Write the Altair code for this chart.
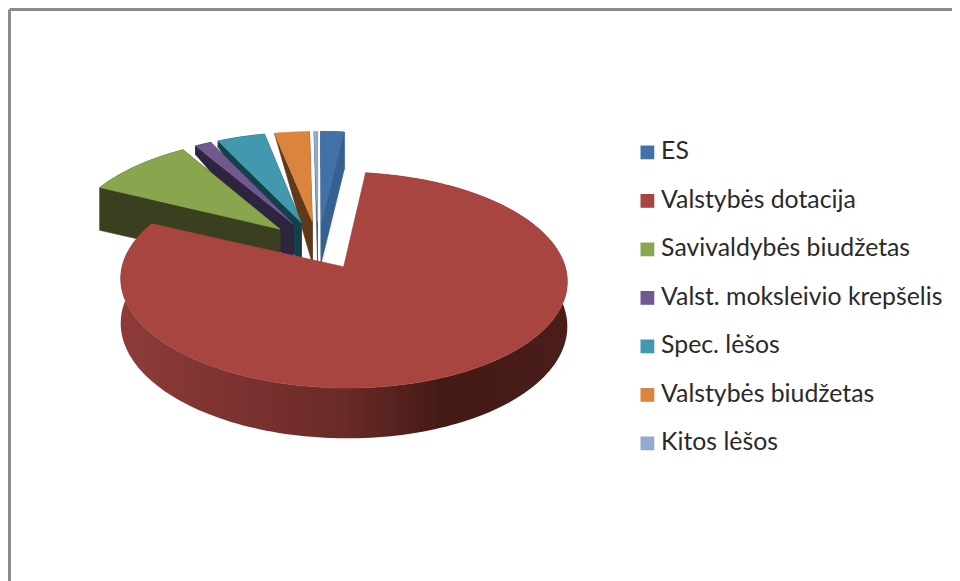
import math
import altair as alt
import pandas as pd

categories = ["ES", "Valstybės dotacija", "Savivaldybės biudžetas",
              "Valst. moksleivio krepšelis", "Spec. lėšos",
              "Valstybės biudžetas", "Kitos lėšos"]
values = [2.0, 80.0, 9.2, 1.4, 4.1, 3.0, 0.3]
top_colors = ["#4171a8", "#a84541", "#89a54e", "#71588f", "#4198af", "#db843d", "#93a9cf"]
wall_colors = ["#35608f", "#6a2a28", "#3a401f", "#2e2440", "#153f4b", "#5f3a1a", "#4c5a78"]
fan_order = [6, 5, 4, 3, 2, 0]
MAIN = 1

# Projection of the tilted disc onto the picture
CX, CY, RX, RY, K, DEPTH, EXPLODE, FAN_V = 318.0, 245.0, 216.0, 101.0, 0.12, 43.0, 0.24, 1.06
OUTER_DROP = {0: 43.0, 1: 43.0, 2: 46.0, 3: 10.0, 4: 7.0, 5: 0.0, 6: 0.0}
PLOT_L, PLOT_T, PLOT_W, PLOT_H = 9.0, 9.0, 943.0, 572.0


def project(u, v, drop=0.0):
    w = 1 + K * v
    return CX + RX * u / w, CY - RY * v / w + drop / w


rows = []
poly_id = [0]


def add_poly(points, face, layer):
    pid = poly_id[0]
    poly_id[0] += 1
    for i, (x, y) in enumerate(points + points[:1]):
        rows.append({"poly": pid, "seq": i, "px": x, "py": y, "face": face, "layer": layer})


total = sum(values)
edges = [0.0]
for val in values:
    edges.append(edges[-1] + val / total * 2 * math.pi)


def slice_polys(s):
    a0, a1 = edges[s], edges[s + 1]
    mid = (a0 + a1) / 2
    ou, ov = EXPLODE * math.sin(mid), EXPLODE * math.cos(mid)
    n = max(2, int((a1 - a0) / math.radians(1.5)))
    angs = [a0 + (a1 - a0) * i / n for i in range(n + 1)]
    stretch = 1.0 if s == MAIN else FAN_V
    rim = [(ou + math.sin(a), ov + stretch * math.cos(a)) for a in angs]
    drop = OUTER_DROP[s]
    lower = [project(u, v, drop) for u, v in rim]
    upper = [project(u, v) for u, v in rim]
    if s == MAIN:
        add_poly(upper + lower[::-1], wall_colors[s], "wall")
    else:
        for (u, v) in (rim[0], rim[-1]):
            add_poly([project(ou, ov), project(u, v), project(u, v, drop), project(ou, ov, DEPTH)],
                     wall_colors[s], "fan")
        if drop > 0:
            add_poly(upper + lower[::-1], wall_colors[s], "fan")
    add_poly([project(ou, ov)] + upper, categories[s], "top" if s == MAIN else "fan")


for s in fan_order:
    slice_polys(s)
slice_polys(MAIN)

df = pd.DataFrame(rows)
shades = sorted(set(df["face"]) - set(categories))
fill_scale = alt.Scale(domain=categories + shades, range=top_colors + shades)

x_axis = alt.Axis(orient="top", domainColor="#8c8c8c", domainWidth=3, ticks=False,
                  labels=False, grid=False, title=None)
y_axis = alt.Axis(orient="left", domainColor="#8c8c8c", domainWidth=3, ticks=False,
                  labels=False, grid=False, title=None)
x_enc = alt.X("px:Q", scale=alt.Scale(domain=[PLOT_L, PLOT_L + PLOT_W], nice=False, zero=False), axis=x_axis)
y_enc = alt.Y("py:Q", scale=alt.Scale(domain=[PLOT_T + PLOT_H, PLOT_T], nice=False, zero=False), axis=y_axis)

legend = alt.Legend(
    values=categories, title=None, orient="none", legendX=626, legendY=131,
    symbolType="square", symbolSize=190, symbolStrokeWidth=0,
    labelFont="Lato", labelFontSize=24.8, labelColor="#2a2a2a",
    labelLimit=400, rowPadding=22.5, labelOffset=1.3, padding=0,
)

base = alt.Chart(df)

fan = (
    base.transform_filter(alt.datum.layer == "fan")
    .mark_line(strokeWidth=0.6, interpolate="linear", strokeJoin="round")
    .encode(
        x=x_enc, y=y_enc,
        fill=alt.Fill("face:N", scale=fill_scale, legend=legend),
        stroke=alt.Stroke("face:N", scale=fill_scale, legend=None),
        detail="poly:N",
        order=alt.Order("seq:Q"),
    )
)

wall_gradient = alt.LinearGradient(
    gradient="linear", x1=0, x2=1, y1=0, y2=0,
    stops=[
        alt.GradientStop(offset=0.0, color="#8e3b38"),
        alt.GradientStop(offset=0.5, color="#6a2a28"),
        alt.GradientStop(offset=0.72, color="#441a16"),
        alt.GradientStop(offset=1.0, color="#4a1d19"),
    ],
)
wall = (
    base.transform_filter(alt.datum.layer == "wall")
    .mark_line(fill=wall_gradient, stroke=wall_gradient, strokeWidth=0, interpolate="linear")
    .encode(x=x_enc, y=y_enc, detail="poly:N", order=alt.Order("seq:Q"))
)
top = (
    base.transform_filter(alt.datum.layer == "top")
    .mark_line(fill=top_colors[MAIN], stroke=top_colors[MAIN], strokeWidth=0.6, interpolate="linear")
    .encode(x=x_enc, y=y_enc, detail="poly:N", order=alt.Order("seq:Q"))
)

chart = (
    alt.layer(fan, wall, top)
    .properties(
        width=PLOT_W, height=PLOT_H,
        padding={"left": 1, "top": 1, "right": 0, "bottom": 0},
        autosize=alt.AutoSizeParams(type="none"),
        background="white",
    )
    .configure_view(stroke=None)
)
chart.save("out.html", embed_options={"renderer": "svg", "actions": False})
